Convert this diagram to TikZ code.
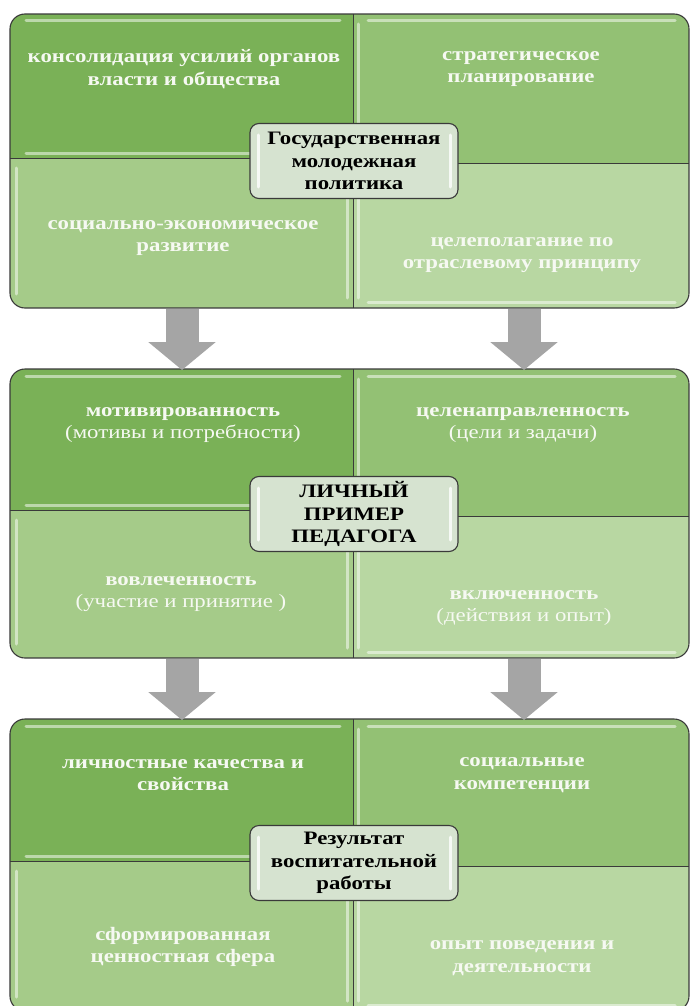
\documentclass[tikz,border=0pt]{standalone}
\usepackage{fontspec}
\setmainfont{Liberation Serif}[FakeStretch=1.2]
\usetikzlibrary{arrows.meta}
\definecolor{qa}{HTML}{7AB157}
\definecolor{qb}{HTML}{93C174}
\definecolor{qc}{HTML}{A5CB89}
\definecolor{qd}{HTML}{B8D7A2}
\definecolor{boxfill}{HTML}{D6E3D0}
\definecolor{edge}{HTML}{3A3A3A}
\definecolor{arrowgray}{HTML}{A5A5A5}
\definecolor{wtext}{HTML}{F6F9F2}
\tikzset{
  qtext/.style={text=wtext, align=center, font=\bfseries\fontsize{19}{22.5}\selectfont},
  ctext/.style={draw=edge, line width=1.1pt, fill=boxfill, rounded corners=9pt,
    minimum width=208pt, minimum height=75pt, inner sep=2pt, align=center,
    text=black, font=\bfseries\fontsize{19}{22.5}\selectfont},
  hl/.style={white, opacity=0.5, line width=3pt, line cap=round},
  blockarrow/.style={line width=33pt, draw=arrowgray,
    -{Triangle[width=66pt,length=28pt,fill=arrowgray]}},
}
\newcommand{\quadgroup}[4]{% #1 top, #2 bottom, #3 left split, #4 right split
  \begin{scope}
    \clip[rounded corners=15pt] (10,#1) rectangle (689,#2);
    \fill[qa] (10,#1) rectangle (353,#3);
    \fill[qb] (353,#1) rectangle (689,#4);
    \fill[qc] (10,#3) rectangle (353,#2);
    \fill[qd] (353,#4) rectangle (689,#2);
    % highlights
    \draw[hl] (26,#1+7) -- (340,#1+7);
    \draw[hl] (26,#3-5) -- (340,#3-5);
    \draw[hl] (368,#1+7) -- (675,#1+7);
    \draw[hl] (358,#1+10) -- (358,#4-10);
    \draw[hl] (16,#3+10) -- (16,#2-14);
    \draw[hl] (347,#3+10) -- (347,#2-10);
    \draw[hl] (358,#4+10) -- (358,#2-10);
    \draw[hl] (368,#2-6) -- (675,#2-6);
  \end{scope}
  \draw[edge, line width=0.9pt] (353,#1) -- (353,#2);
  \draw[edge, line width=0.9pt] (10,#3) -- (353,#3);
  \draw[edge, line width=0.9pt] (353,#4) -- (689,#4);
  \draw[edge, line width=1.1pt, rounded corners=15pt] (10,#1) rectangle (689,#2);
}
\newcommand{\boxhl}[1]{% #1 centre y
  \draw[hl, opacity=0.8] (258,#1-26) -- (258,#1+26);
  \draw[hl, opacity=0.8] (450,#1-26) -- (450,#1+26);
}
\begin{document}
\begin{tikzpicture}[x=1pt,y=-1pt]
\clip (0,0) rectangle (690,1006);
\fill[white] (0,0) rectangle (690,1006);

% ---------- group 1 ----------
\quadgroup{14}{308}{158}{163}
\node[qtext] (g1a) at (184,69) {консолидация усилий органов\\власти и общества};
\node[qtext] (g1b) at (521,69) {стратегическое\\планирование};
\node[qtext] (g1c) at (183,238) {социально-экономическое\\развитие};
\node[qtext] (g1d) at (522,255) {целеполагание по\\отраслевому принципу};
\node[ctext] (g1) at (354,161) {Государственная\\молодежная\\политика};
\boxhl{161}

% ---------- group 2 ----------
\quadgroup{369}{658}{510}{516}
\node[qtext] (g2a) at (183,425) {мотивированность\\\mdseries(мотивы и потребности)};
\node[qtext] (g2b) at (523,425) {целенаправленность\\\mdseries(цели и задачи)};
\node[qtext] (g2c) at (181,594) {вовлеченность\\\mdseries(участие и принятие )};
\node[qtext] (g2d) at (524,608) {включенность\\\mdseries(действия и опыт)};
\node[ctext] (g2) at (354,514) {ЛИЧНЫЙ\\ПРИМЕР\\ПЕДАГОГА};
\boxhl{514}

% ---------- group 3 ----------
\quadgroup{719}{1011}{861}{866}
\node[qtext] (g3a) at (183,775) {личностные качества и\\свойства};
\node[qtext] (g3b) at (522,775) {социальные\\компетенции};
\node[qtext] (g3c) at (183,947) {сформированная\\ценностная сфера};
\node[qtext] (g3d) at (522,958) {опыт поведения и\\деятельности};
\node[ctext] (g3) at (354,863) {Результат\\воспитательной\\работы};
\boxhl{863}

% ---------- arrows ----------
\coordinate (a1s) at (182,308.5);
\coordinate (a1e) at (182,370);
\coordinate (a2s) at (524,308.5);
\coordinate (a2e) at (524,370);
\coordinate (a3s) at (182,658.5);
\coordinate (a3e) at (182,720);
\coordinate (a4s) at (524,658.5);
\coordinate (a4e) at (524,720);
\draw[blockarrow] (a1s) -- (a1e);
\draw[blockarrow] (a2s) -- (a2e);
\draw[blockarrow] (a3s) -- (a3e);
\draw[blockarrow] (a4s) -- (a4e);
\end{tikzpicture}
\end{document}
